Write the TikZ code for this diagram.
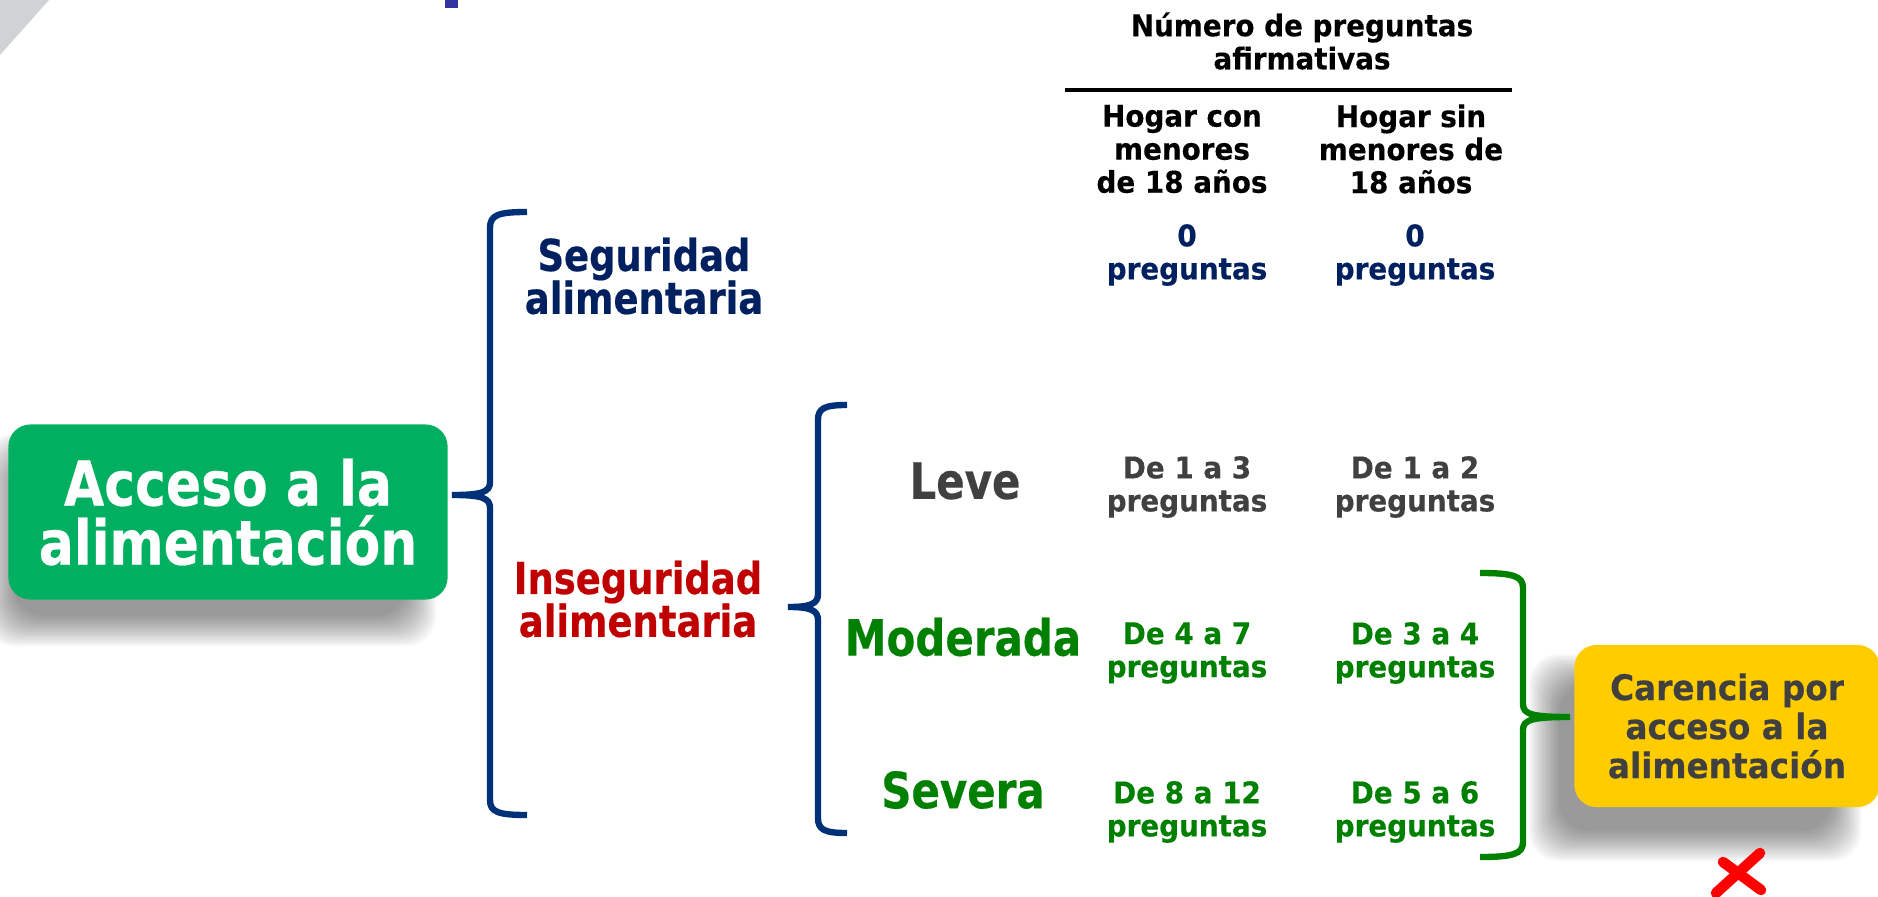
\documentclass[tikz,border=0pt]{standalone}
\usepackage{fontspec}
\newfontfamily\cellfont{DejaVu Sans}[FakeStretch=0.93,FakeBold=0.3]
\newfontfamily\labelfont{DejaVu Sans}[FakeStretch=0.84,FakeBold=0.4]
\definecolor{navy}{RGB}{0,32,96}
\definecolor{bracenavy}{RGB}{0,48,120}
\definecolor{darkred}{RGB}{192,0,0}
\definecolor{leafgreen}{RGB}{0,128,0}
\definecolor{textgray}{RGB}{64,64,64}
\definecolor{boxgreen}{RGB}{0,176,96}
\definecolor{boxyellow}{RGB}{255,204,0}
\definecolor{slidegray}{RGB}{208,211,214}
\definecolor{slidepurple}{RGB}{51,51,160}

\begin{document}
\begin{tikzpicture}[x=0.01cm,y=-0.01cm,
    cell/.style={font=\cellfont\bfseries\fontsize{8.5}{9.4}\selectfont, align=center, inner sep=0pt},
    kind/.style={font=\labelfont\bfseries\fontsize{14.2}{14}\selectfont, inner sep=0pt},
    group/.style={font=\labelfont\bfseries\fontsize{12.5}{12.2}\selectfont, align=center, inner sep=0pt},
    card/.style={rounded corners=0.22cm, align=center, inner sep=0pt},
    bracket/.style={line width=1.8pt}]
        \useasboundingbox (0,0) rectangle (1878,897);
        \fill[slidegray] (0,0) -- (49,0) -- (0,55) -- cycle;
        \fill[slidepurple] (445,0) rectangle (458,8);
        \foreach \i in {0,...,15}{
            \fill[black,opacity=0.03,rounded corners=0.3cm] ({14-2*\i},{464-2*\i}) rectangle ({406+2*\i},{616+2*\i});
            \fill[black,opacity=0.03,rounded corners=0.3cm] ({1559-2*\i},{684-2*\i}) rectangle ({1831+2*\i},{831+2*\i});
        }
        \node[card,fill=boxgreen,text=white,minimum width=4.39cm,minimum height=1.75cm,
            font=\labelfont\bfseries\fontsize{17.6}{16.8}\selectfont] (acc) at (228,512) {Acceso a la\\alimentación};
        \node[card,fill=boxyellow,text=textgray,minimum width=3.05cm,minimum height=1.62cm,
            font=\cellfont\bfseries\fontsize{10}{11.1}\selectfont] (car) at (1727,726) {Carencia por\\acceso a la\\alimentación};

        \node[group,text=navy] (seg) at (644,276) {Seguridad\\alimentaria};
        \node[group,text=darkred] (inseg) at (638,599) {Inseguridad\\alimentaria};
        \node[kind,text=textgray] (leve) at (965,481) {Leve};
        \node[kind,text=leafgreen] (mod) at (963,637) {Moderada};
        \node[kind,text=leafgreen] (sev) at (963,790) {Severa};

        \node[cell] (num) at (1302,41) {Número de preguntas\\afirmativas};
        \draw[line width=1.1pt] (1065,90) -- (1512,90);
        \node[cell] (con) at (1182,149) {Hogar con\\menores\\de 18 años};
        \node[cell] (sin) at (1411,149) {Hogar sin\\menores de\\18 años};

        \node[cell,text=navy] (segcon) at (1187,255) {0\\preguntas};
        \node[cell,text=navy] (segsin) at (1415,255) {0\\preguntas};
        \node[cell,text=textgray] (levecon) at (1187,487) {De 1 a 3\\preguntas};
        \node[cell,text=textgray] (levesin) at (1415,487) {De 1 a 2\\preguntas};
        \node[cell,text=leafgreen] (modcon) at (1187,653) {De 4 a 7\\preguntas};
        \node[cell,text=leafgreen] (modsin) at (1415,653) {De 3 a 4\\preguntas};
        \node[cell,text=leafgreen] (sevcon) at (1187,812) {De 8 a 12\\preguntas};
        \node[cell,text=leafgreen] (sevsin) at (1415,812) {De 5 a 6\\preguntas};

        \coordinate (tipa) at (452,495);
        \coordinate (tipb) at (788,607);
        \coordinate (tipc) at (1570,717);
        \draw[bracket,bracenavy] (527,212) .. controls (498,212) and (490,215) .. (490,228) -- (490,482)
            .. controls (490,492) and (482,495) .. (tipa) .. controls (482,495) and (490,498) .. (490,508)
            -- (490,800) .. controls (490,812) and (498,815) .. (527,815);
        \draw[bracket,bracenavy] (847,405) .. controls (825,405) and (818,408) .. (818,420) -- (818,594)
            .. controls (818,604) and (810,607) .. (tipb) .. controls (810,607) and (818,610) .. (818,620)
            -- (818,818) .. controls (818,830) and (825,833) .. (847,833);
        \draw[bracket,leafgreen] (1480,573) .. controls (1513,573) and (1523,576) .. (1523,588) -- (1523,704)
            .. controls (1523,714) and (1531,717) .. (tipc) .. controls (1531,717) and (1523,720) .. (1523,730)
            -- (1523,842) .. controls (1523,854) and (1513,857) .. (1480,857);

        \draw[red,line width=3pt,line cap=round] (1760,853) -- (1716,893);
        \draw[red,line width=3pt,line cap=round] (1723,862) -- (1761,890);
    \end{tikzpicture}
\end{document}
